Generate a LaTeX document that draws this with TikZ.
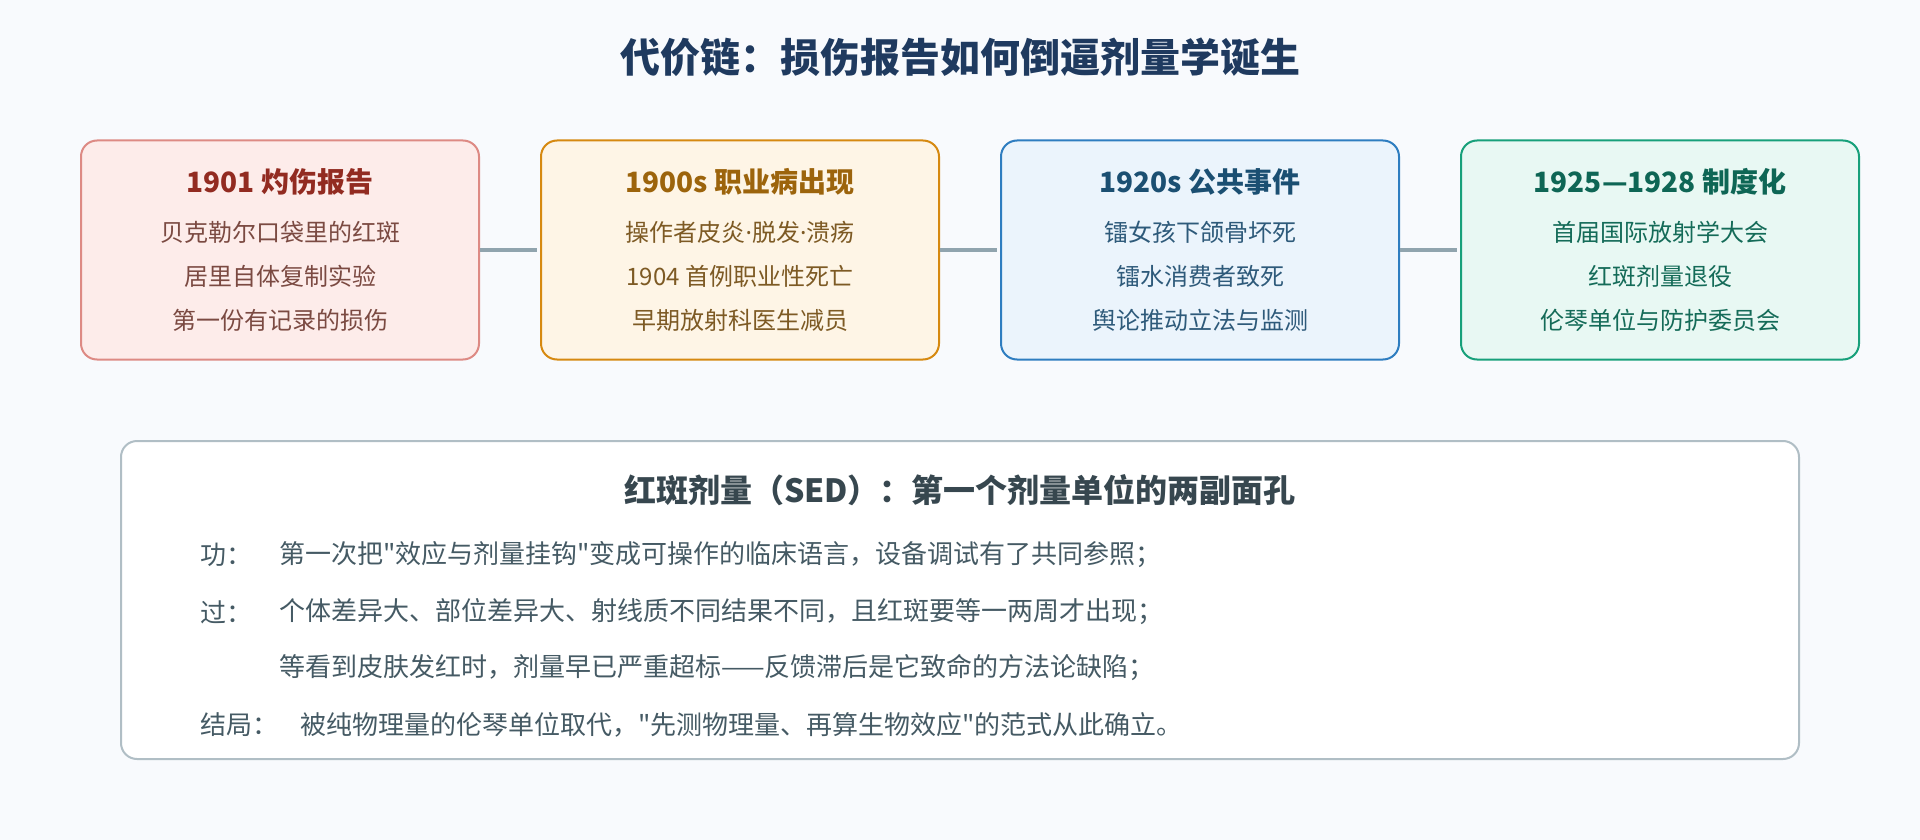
\documentclass[tikz,border=0pt]{standalone}
\usepackage{fontspec}
\setmainfont{Noto Sans CJK SC}
\newfontfamily\latinfont{Noto Sans}
\newfontfamily\plainfont{Noto Sans CJK SC}
\newcommand{\sq}{{\plainfont\char"22\relax}}
\newcommand{\dotsep}{{\latinfont\char"B7\relax}}
\usetikzlibrary{positioning}
\definecolor{pagebg}{HTML}{F8FAFD}
\definecolor{maintitle}{HTML}{1F3A5F}
\definecolor{redfill}{HTML}{FDECEA}
\definecolor{redline}{HTML}{DD8A84}
\definecolor{redhead}{HTML}{922B21}
\definecolor{redtext}{HTML}{7B4A42}
\definecolor{orangefill}{HTML}{FEF5E6}
\definecolor{orangeline}{HTML}{D68910}
\definecolor{orangehead}{HTML}{9C640C}
\definecolor{orangetext}{HTML}{7D5A24}
\definecolor{bluefill}{HTML}{EBF4FC}
\definecolor{blueline}{HTML}{2E7DC0}
\definecolor{bluehead}{HTML}{1B4F72}
\definecolor{bluetext}{HTML}{2E5A7A}
\definecolor{greenfill}{HTML}{E8F8F3}
\definecolor{greenline}{HTML}{17A07A}
\definecolor{greenhead}{HTML}{0E6655}
\definecolor{greentext}{HTML}{146B58}
\definecolor{linkgray}{HTML}{90A4AE}
\definecolor{notegray}{HTML}{B0BEC5}
\definecolor{notehead}{HTML}{37474F}
\definecolor{notetext}{HTML}{455A64}

\begin{document}
\begin{tikzpicture}[x=1pt,y=-1pt]
		\tikzstyle{EventBox}=[draw,line width=2pt,rounded corners=16pt,minimum width=398pt,minimum height=219pt,inner sep=0pt]
		\tikzstyle{EventHead}=[inner sep=0pt,font=\fontsize{28}{32}\selectfont\bfseries]
		\tikzstyle{EventLine}=[inner sep=0pt,font=\fontsize{24}{28}\selectfont]
		\tikzstyle{NoteLine}=[inner sep=0pt,anchor=west,text=notetext,font=\fontsize{26}{30}\selectfont]
		\tikzstyle{Link}=[draw=linkgray,line width=4pt,shorten >=3pt]
		\fill[pagebg] (0,0) rectangle (1920,840);
		\useasboundingbox (0,0) rectangle (1920,840);
		\node[inner sep=0pt,text=maintitle,font=\fontsize{40}{46}\selectfont\bfseries] (title) at (960,57) {代价链：损伤报告如何倒逼剂量学诞生};
		% four stages
		\node[EventBox,fill=redfill,draw=redline] (burn) at (280,250) {};
		\node[EventBox,fill=orangefill,draw=orangeline] (work) at (740,250) {};
		\node[EventBox,fill=bluefill,draw=blueline] (public) at (1200,250) {};
		\node[EventBox,fill=greenfill,draw=greenline] (rule) at (1660,250) {};
		\draw[Link] (burn.east) -- (work.west);
		\draw[Link] (work.east) -- (public.west);
		\draw[Link] (public.east) -- (rule.west);
		\node[EventHead,text=redhead] (burnhead) at (280,182) {1901 灼伤报告};
		\node[EventLine,text=redtext] (burna) at (280,232) {贝克勒尔口袋里的红斑};
		\node[EventLine,text=redtext] (burnb) at (280,276) {居里自体复制实验};
		\node[EventLine,text=redtext] (burnc) at (280,320) {第一份有记录的损伤};
		\node[EventHead,text=orangehead] (workhead) at (740,182) {1900s 职业病出现};
		\node[EventLine,text=orangetext] (worka) at (740,232) {操作者皮炎\dotsep 脱发\dotsep 溃疡};
		\node[EventLine,text=orangetext] (workb) at (740,276) {1904 首例职业性死亡};
		\node[EventLine,text=orangetext] (workc) at (740,320) {早期放射科医生减员};
		\node[EventHead,text=bluehead] (publichead) at (1200,182) {1920s 公共事件};
		\node[EventLine,text=bluetext] (publica) at (1200,232) {镭女孩下颌骨坏死};
		\node[EventLine,text=bluetext] (publicb) at (1200,276) {镭水消费者致死};
		\node[EventLine,text=bluetext] (publicc) at (1200,320) {舆论推动立法与监测};
		\node[EventHead,text=greenhead] (rulehead) at (1660,182) {1925—1928 制度化};
		\node[EventLine,text=greentext] (rulea) at (1660,232) {首届国际放射学大会};
		\node[EventLine,text=greentext] (ruleb) at (1660,276) {红斑剂量退役};
		\node[EventLine,text=greentext] (rulec) at (1660,320) {伦琴单位与防护委员会};
		% the two faces of SED
		\node[draw=notegray,fill=white,line width=2pt,rounded corners=16pt,minimum width=1678pt,minimum height=318pt] (note) at (960,600) {};
		\node[inner sep=0pt,text=notehead,font=\fontsize{32}{36}\selectfont\bfseries] (notehead) at (960,490) {红斑剂量（SED）：第一个剂量单位的两副面孔};
		\node[NoteLine] (gain) at (200,555) {功：};
		\node[NoteLine] (gaintext) at (279,555) {第一次把\sq 效应与剂量挂钩\sq 变成可操作的临床语言，设备调试有了共同参照；};
		\node[NoteLine] (fault) at (200,612) {过：};
		\node[NoteLine] (faulta) at (279,612) {个体差异大、部位差异大、射线质不同结果不同，且红斑要等一两周才出现；};
		\node[NoteLine] (faultb) at (279,668) {等看到皮肤发红时，剂量早已严重超标——反馈滞后是它致命的方法论缺陷；};
		\node[NoteLine] (end) at (200,725) {结局：};
		\node[NoteLine] (endtext) at (300,725) {被纯物理量的伦琴单位取代，\sq 先测物理量、再算生物效应\sq 的范式从此确立。};
\end{tikzpicture}
\end{document}
